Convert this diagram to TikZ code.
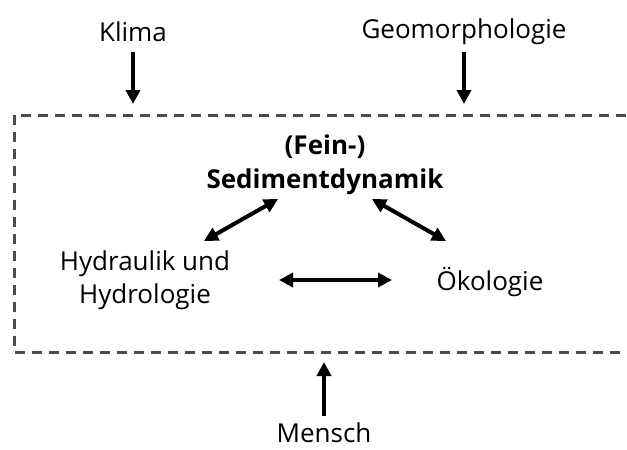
\documentclass[tikz,border=0pt]{standalone}
\usepackage{fontspec}
\setmainfont{Open Sans}
\usetikzlibrary{arrows.meta}
\tikzset{
  lbl/.style={font=\fontsize{26}{33}\selectfont, align=center, inner sep=0pt},
  bold/.style={lbl, font=\fontsize{26}{34}\selectfont\bfseries},
  arr/.style={line width=4pt, -{Triangle[length=14pt,width=14pt]}},
  darr/.style={line width=4pt, {Triangle[length=14pt,width=14pt]}-{Triangle[length=14pt,width=14pt]}},
  frame/.style={line width=3pt, draw=black!70, dash pattern=on 10pt off 7pt}
}
\begin{document}
\begin{tikzpicture}[x=1pt,y=-1pt]
\useasboundingbox (0,0) rectangle (627,450);
\clip (0,0) rectangle (627,450);
\draw[frame] (660,115) -- (14,115) -- (14,352) -- (660,352);

\node[lbl] (klima) at (133,32) {Klima};
\node[lbl] (geo) at (464,32) {Geomorphologie};
\node[bold] (sed) at (325,165) {(Fein-)\\Sedimentdynamik};
\node[lbl] (hyd) at (145,280) {Hydraulik und\\Hydrologie};
\node[lbl] (oek) at (490,282) {Ökologie};
\node[lbl] (mensch) at (324,433) {Mensch};

\coordinate (k1) at (133,52);  \coordinate (k2) at (133,104);
\coordinate (g1) at (464,52);  \coordinate (g2) at (464,104);
\coordinate (m1) at (324,416); \coordinate (m2) at (324,362);
\coordinate (l1) at (204,241); \coordinate (l2) at (278,199);
\coordinate (r1) at (372,199); \coordinate (r2) at (446,241);
\coordinate (h1) at (279,280); \coordinate (h2) at (392,280);

\draw[arr] (k1) -- (k2);
\draw[arr] (g1) -- (g2);
\draw[arr] (m1) -- (m2);
\draw[darr] (l1) -- (l2);
\draw[darr] (r1) -- (r2);
\draw[darr] (h1) -- (h2);
\end{tikzpicture}
\end{document}
